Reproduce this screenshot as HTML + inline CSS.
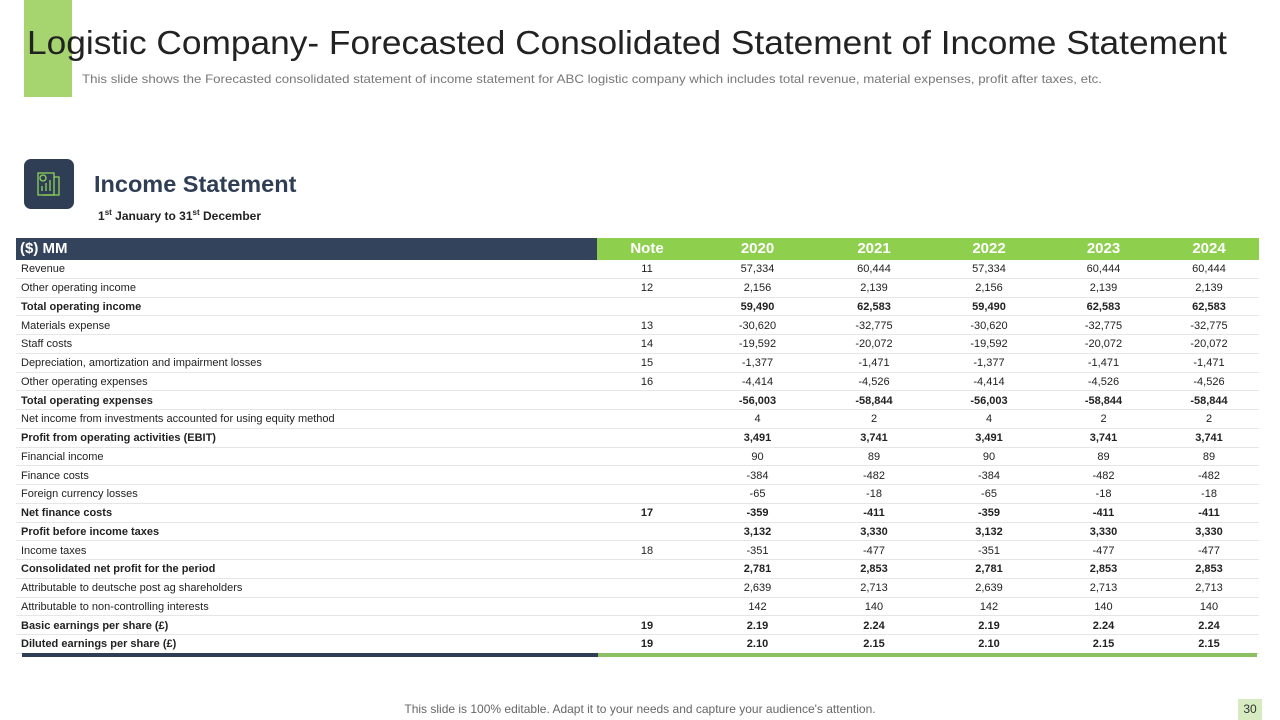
<!DOCTYPE html>
<html><head><meta charset="utf-8"><style>
body{margin:0;width:1280px;height:720px;overflow:hidden;background:#fff;font-family:"Liberation Sans",sans-serif;position:relative}
.abs{position:absolute}
table{border-collapse:collapse;position:absolute;left:16px;top:238px;width:1243px;table-layout:fixed}
td,th{padding:0;font-size:11px;color:#222;white-space:nowrap;overflow:hidden}
td{height:17.76px;line-height:17px;border-bottom:1px solid #e6e6e6}
td span{position:relative;top:1px}
th{height:22px;line-height:22px;color:#fff;font-size:15px;font-weight:bold;border:none}
td.n{text-align:center}
tr.b td{font-weight:bold}
</style></head><body>
<div class="abs" style="left:24px;top:0;width:48px;height:97px;background:#a6d46f"></div>
<svg class="abs" style="left:0;top:0" width="1280" height="100">
<text x="27" y="54" font-family="Liberation Sans" font-size="33" fill="#222" textLength="1200" lengthAdjust="spacingAndGlyphs">Logistic Company- Forecasted Consolidated Statement of Income Statement</text>
<text x="82" y="83" font-family="Liberation Sans" font-size="12" fill="#777" textLength="1020" lengthAdjust="spacingAndGlyphs">This slide shows the Forecasted consolidated statement of income statement for ABC logistic company which includes total revenue,  material expenses, profit after taxes, etc.</text>
</svg>
<div class="abs" style="left:24px;top:159px;width:50px;height:50px;background:#2f3e55;border-radius:7px">
<svg width="50" height="50"><g fill="none" stroke="#8fd45a" stroke-width="1.3"><path d="M14 14h16v22h-16z"/><circle cx="19" cy="19" r="3"/><path d="M18 32v-5M22 32v-8M26 32v-11"/><path d="M30 18h5v18h-16"/></g></svg></div>
<div class="abs" style="left:94px;top:171px;font-size:23.5px;font-weight:bold;color:#2f3e55">Income Statement</div>
<div class="abs" style="left:98px;top:208px;font-size:12px;font-weight:bold;color:#222">1<sup style="font-size:8px">st</sup> January to 31<sup style="font-size:8px">st</sup> December</div>
<table><colgroup><col style="width:581px"><col style="width:100px"><col style="width:121px"><col style="width:112px"><col style="width:118px"><col style="width:111px"><col style="width:100px"></colgroup>
<thead><tr id="hdr"></tr></thead><tbody id="tb"></tbody></table>
<div class="abs" style="left:22px;top:653px;width:576px;height:4px;background:#2f3e55"></div>
<div class="abs" style="left:598px;top:653px;width:659px;height:4px;background:#8dc063"></div>
<div class="abs" style="left:0;width:1280px;top:702px;text-align:center;font-size:12px;color:#666">This slide is 100% editable. Adapt it to your needs and capture your audience's attention.</div>
<div class="abs" style="left:1238px;top:699px;width:24px;height:21px;background:#d6ecc0;text-align:center;font-size:12px;line-height:21px;color:#333">30</div>
<script>
const headers=["($) MM","Note","2020","2021","2022","2023","2024"];
const labels=["Revenue","Other operating income","Total operating income","Materials expense","Staff costs","Depreciation, amortization and impairment losses","Other operating expenses","Total operating expenses","Net income from investments accounted for using equity method","Profit from operating activities (EBIT)","Financial income","Finance costs","Foreign currency losses","Net finance costs","Profit before income taxes","Income taxes","Consolidated net profit for the period","Attributable to deutsche post ag shareholders","Attributable to non-controlling interests","Basic earnings per share (£)","Diluted earnings per share (£)"];
const notes=["11","12","","13","14","15","16","","","","","","","17","","18","","","","19","19"];
const bold=[0,0,1,0,0,0,0,1,0,1,0,0,0,1,1,0,1,0,0,1,1];
const v2020=["57,334","2,156","59,490","-30,620","-19,592","-1,377","-4,414","-56,003","4","3,491","90","-384","-65","-359","3,132","-351","2,781","2,639","142","2.19","2.10"];
const v2021=["60,444","2,139","62,583","-32,775","-20,072","-1,471","-4,526","-58,844","2","3,741","89","-482","-18","-411","3,330","-477","2,853","2,713","140","2.24","2.15"];
const v2022=["57,334","2,156","59,490","-30,620","-19,592","-1,377","-4,414","-56,003","4","3,491","90","-384","-65","-359","3,132","-351","2,781","2,639","142","2.19","2.10"];
const v2023=["60,444","2,139","62,583","-32,775","-20,072","-1,471","-4,526","-58,844","2","3,741","89","-482","-18","-411","3,330","-477","2,853","2,713","140","2.24","2.15"];
const v2024=["60,444","2,139","62,583","-32,775","-20,072","-1,471","-4,526","-58,844","2","3,741","89","-482","-18","-411","3,330","-477","2,853","2,713","140","2.24","2.15"];
const hdr=document.getElementById('hdr');
headers.forEach((h,i)=>{const th=document.createElement('th');


th.textContent=h;th.style.background=i==0?'#34435c':'#8fcf4e';th.style.textAlign=i==0?'left':'center';if(i==0)th.style.paddingLeft='4px';hdr.appendChild(th);});
const tb=document.getElementById('tb');const cols=[v2020,v2021,v2022,v2023,v2024];
labels.forEach((l,r)=>{const tr=document.createElement('tr');


if(bold[r])tr.className='b';
const cells=[l,notes[r]].concat(cols.map(c=>c[r]));
cells.forEach((c,i)=>{const td=document.createElement('td');


const sp=document.createElement('span');sp.textContent=c;td.appendChild(sp);
if(i>0)td.className='n';else td.style.paddingLeft='5px';tr.appendChild(td);});
tb.appendChild(tr);});
</script>
</body></html>
